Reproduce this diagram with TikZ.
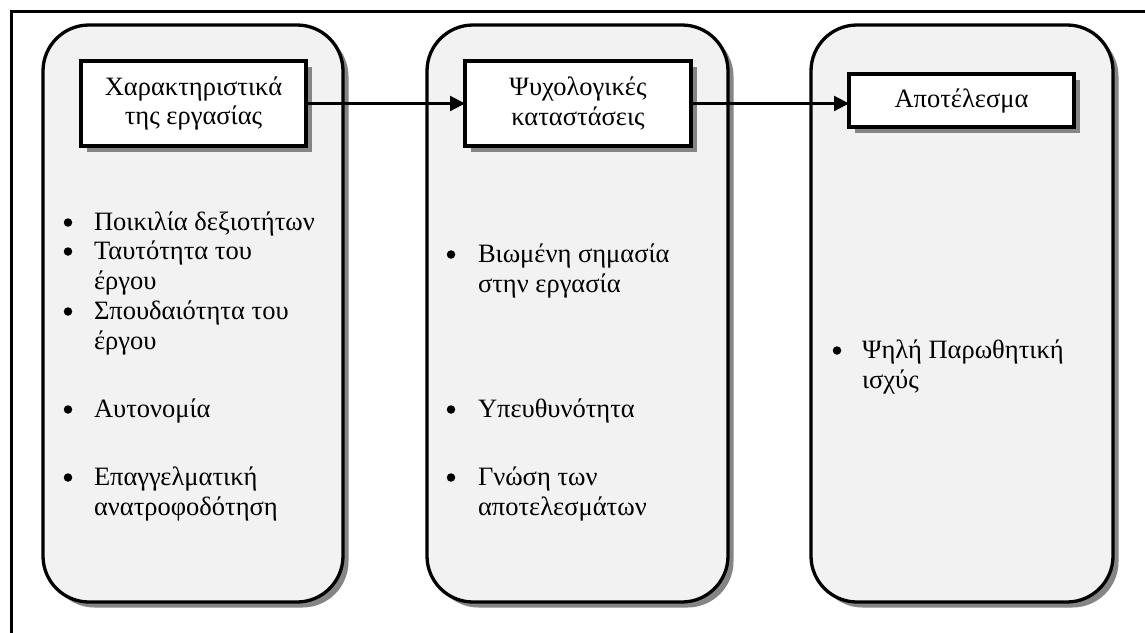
\documentclass[tikz,border=0pt]{standalone}
\usepackage{fontspec}
\setmainfont{Liberation Serif}
\usetikzlibrary{arrows.meta,shadows}
\definecolor{panel}{HTML}{F2F2F2}
\definecolor{shade}{HTML}{858585}
\begin{document}
\begin{tikzpicture}[x=1pt,y=-1pt,
  every node/.style={font=\fontsize{26.5}{29.5}\selectfont, inner sep=0pt, outer sep=0pt},
  boxshadow/.style={drop shadow={shadow xshift=5.5pt, shadow yshift=-5.5pt, fill=shade, opacity=1}},
  panelbox/.style={draw, line width=3.3pt, fill=panel, rounded corners=46pt,
    minimum width=300pt, minimum height=577pt, boxshadow},
  headbox/.style={draw, line width=3.3pt, fill=white, align=center,
    minimum width=225pt, boxshadow},
  entry/.style={anchor=base west},
  dot/.style={circle, fill=black, minimum size=8.5pt},
  link/.style={line width=2.2pt, -{Triangle[length=15pt,width=15pt]}}
]
\fill[white] (0,0) rectangle (1145,632);
\useasboundingbox (0,0) rectangle (1145,632);
% page frame
\draw[line width=3pt] (11,640) -- (11,11) -- (1150,11);

% three stages
\node[panelbox] (p1) at (193,313.5) {};
\node[panelbox, minimum width=301pt] (p2) at (577.5,313.5) {};
\node[panelbox, minimum width=302pt] (p3) at (962,313.5) {};

% stage headings
\node[headbox, minimum height=85pt] (h1) at (193.5,103.5) {Χαρακτηριστικά\\της εργασίας};
\node[headbox, minimum height=85pt, minimum width=226pt] (h2) at (578,103.5) {Ψυχολογικές\\καταστάσεις};
\node[headbox, minimum height=53pt] (h3) at (961.5,100.5) {Αποτέλεσμα};

\draw[link] (h1.east) -- (h2.west);
\draw[link] (h2.east) -- (h2.east -| h3.west);

% job characteristics
\node[dot] (b11) at (68,222.5) {};
\node[entry] (l11) at (94,230) {Ποικιλία δεξιοτήτων};
\node[dot] (b12) at (68,251.5) {};
\node[entry] (l12) at (94,259) {Ταυτότητα του};
\node[entry] (l12b) at (94,289) {έργου};
\node[dot] (b13) at (68,311.5) {};
\node[entry] (l13) at (94,319) {Σπουδαιότητα του};
\node[entry] (l13b) at (94,349) {έργου};
\node[dot] (b14) at (68,409.5) {};
\node[entry] (l14) at (94,417) {Αυτονομία};
\node[dot] (b15) at (68,477.5) {};
\node[entry] (l15) at (94,485) {Επαγγελματική};
\node[entry] (l15b) at (94,515) {ανατροφοδότηση};

% psychological states
\node[dot] (b21) at (451,254.5) {};
\node[entry] (l21) at (478,262) {Βιωμένη σημασία};
\node[entry] (l21b) at (478,292) {στην εργασία};
\node[dot] (b22) at (451,409.5) {};
\node[entry] (l22) at (478,417) {Υπευθυνότητα};
\node[dot] (b23) at (451,477.5) {};
\node[entry] (l23) at (478,485) {Γνώση των};
\node[entry] (l23b) at (478,515) {αποτελεσμάτων};

% outcome
\node[dot] (b31) at (837,350.5) {};
\node[entry] (l31) at (862,358) {Ψηλή Παρωθητική};
\node[entry] (l31b) at (862,388) {ισχύς};
\end{tikzpicture}
\end{document}
